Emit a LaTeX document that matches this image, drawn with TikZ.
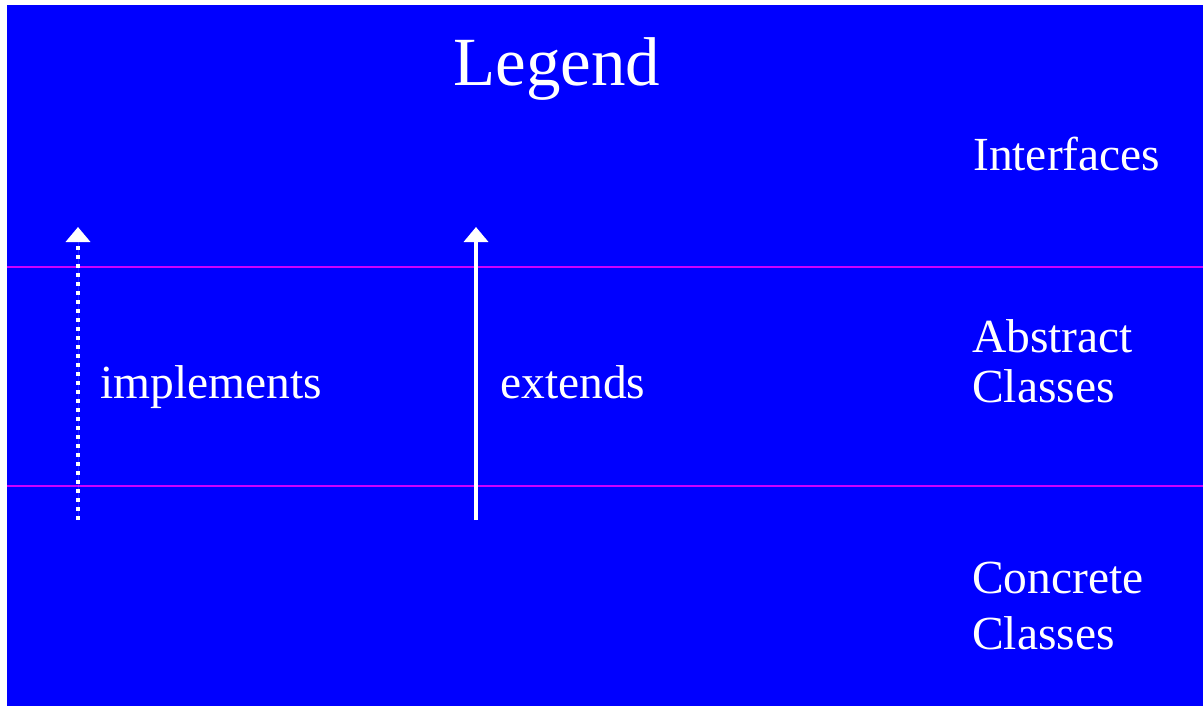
\documentclass[tikz,border=0pt]{standalone}
\usepackage{fontspec}
\setmainfont{Liberation Serif}
\usetikzlibrary{arrows.meta}
\definecolor{bgblue}{RGB}{0,0,255}
\definecolor{sepline}{RGB}{204,0,255}
\tikzset{
  lbl/.style={text=white, inner sep=0pt, anchor=base west, font=\fontsize{47.5}{56}\selectfont},
  title/.style={text=white, inner sep=0pt, anchor=base, font=\fontsize{69}{80}\selectfont},
  sep/.style={draw=sepline, line width=1.6pt},
  arrowtip/.style={-{Triangle[width=24pt,length=15pt]}},
  solidarrow/.style={draw=white, fill=white, line width=3.5pt, arrowtip},
  dotarrow/.style={draw=white, fill=white, line width=3.6pt, dash pattern=on 3.6pt off 5.4pt, arrowtip}
}
\begin{document}
\begin{tikzpicture}[x=1pt,y=-1pt]
\useasboundingbox (0,0) rectangle (1203,706);
\fill[white] (0,0) rectangle (1203,706);
\fill[bgblue] (7,5) rectangle (1203,706);
\draw[sep] (7,267) -- (1203,267);
\draw[sep] (7,486) -- (1203,486);
\node[title] (legend) at (557,86) {Legend};
\node[lbl] (intf) at (973,171) {Interfaces};
\node[lbl] (abs1) at (972,352) {Abstract};
\node[lbl] (abs2) at (972,402) {Classes};
\node[lbl] (con1) at (972,593) {Concrete};
\node[lbl] (con2) at (972,649) {Classes};
\node[lbl] (impl) at (100,398) {implements};
\node[lbl] (ext) at (500,398) {extends};
\coordinate (ib) at (78,520);
\coordinate (it) at (78,227);
\coordinate (eb) at (476,520);
\coordinate (et) at (476,227);
\draw[dotarrow] (ib) -- (it);
\draw[solidarrow] (eb) -- (et);
\end{tikzpicture}
\end{document}
